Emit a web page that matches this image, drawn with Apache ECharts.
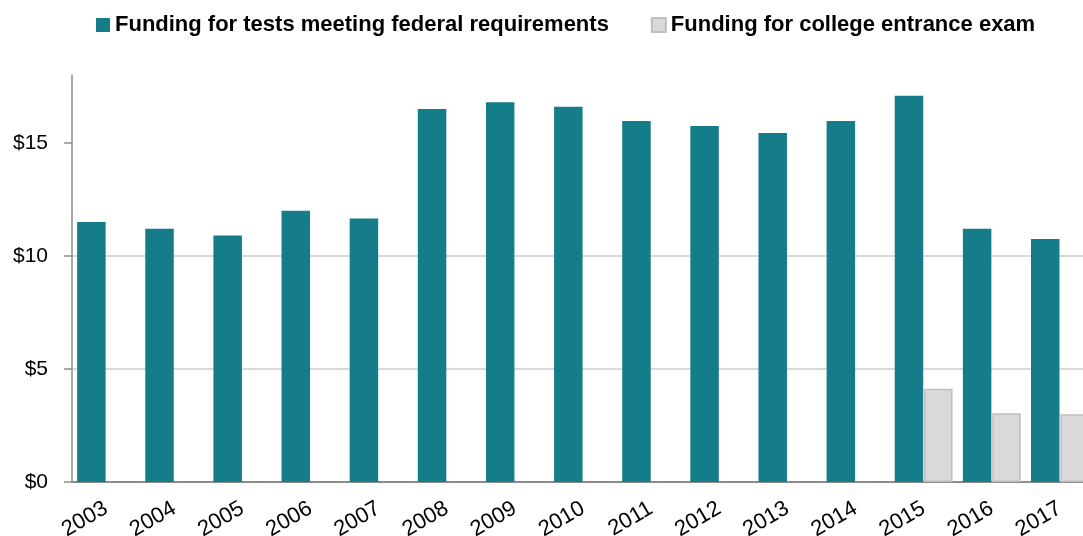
<!DOCTYPE html>
<html><head><meta charset="utf-8">
<script src="https://cdn.jsdelivr.net/npm/echarts@6/dist/echarts.min.js"></script>
<style>html,body{margin:0;padding:0;background:#fff}#c{width:1083px;height:536px}</style>
</head><body><div id="c"></div>
<script>
const years = ['2003','2004','2005','2006','2007','2008','2009','2010','2011','2012','2013','2014','2015','2016','2017'];
const federalTests = [11.5,11.2,10.9,12.0,11.65,16.5,16.8,16.6,15.97,15.75,15.43,15.97,17.08,11.2,10.75];
const collegeExam = [null,null,null,null,null,null,null,null,null,null,null,null,4.12,3.04,3.0];
const yTicks = [0,5,10,15];
const seriesNames = ['Funding for tests meeting federal requirements','Funding for college entrance exam'];

const FONT = "'Liberation Sans Narrow','Arial Narrow','Liberation Sans',sans-serif";
const chart = echarts.init(document.getElementById('c'));
chart.setOption({
  animation:false,
  legend:{
    left:91, top:9, itemWidth:14, itemHeight:14, itemGap:42, icon:'rect',
    textStyle:{fontFamily:FONT, fontWeight:'bold', fontSize:22, color:'#000'},
    data:seriesNames
  },
  grid:{left:72, top:75, bottom:54, width:1022, outerBoundsMode:'none', containLabel:false},
  xAxis:{
    type:'category', data:years,
    axisLine:{lineStyle:{color:'#8c8c8c', width:2}},
    axisTick:{show:false},
    axisLabel:{rotate:30, fontFamily:FONT, fontSize:22, color:'#000', margin:25, interval:0}
  },
  yAxis:{
    type:'value', min:0, max:18, interval:5,
    axisLine:{show:true, lineStyle:{color:'#8c8c8c', width:1.5}},
    axisTick:{show:true, length:8, lineStyle:{color:'#8c8c8c', width:1.5}, customValues:yTicks},
    axisLabel:{fontFamily:FONT, fontSize:21, color:'#000', margin:24, customValues:yTicks,
      formatter:v=>'$'+v},
    splitLine:{show:true, showMinLine:false, showMaxLine:false, lineStyle:{color:'#d9d9d9', width:2}}
  },
  series:[
    {name:seriesNames[0], type:'bar', data:federalTests, barWidth:28.5, barGap:'3%',
     itemStyle:{color:'#157d8a'}},
    {name:seriesNames[1], type:'bar', data:collegeExam, barWidth:28.5,
     itemStyle:{color:'#d9d9d9', borderColor:'#bfbfbf', borderWidth:1.5}}
  ]
});
</script></body></html>
